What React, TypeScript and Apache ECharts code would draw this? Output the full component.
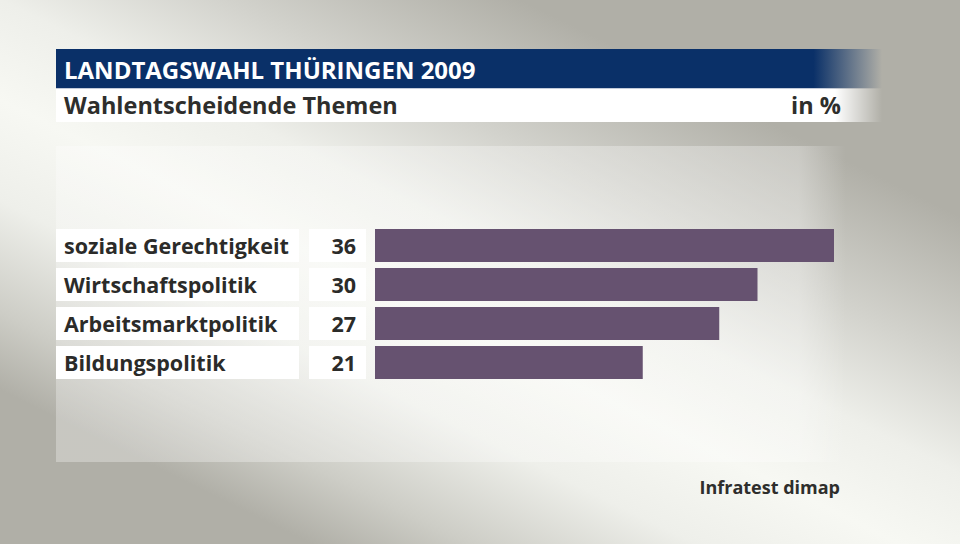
import React, { useEffect, useRef } from "react";
import * as echarts from "echarts";

const categories = ["soziale Gerechtigkeit", "Wirtschaftspolitik", "Arbeitsmarktpolitik", "Bildungspolitik"];
const values = [36, 30, 27, 21];
const title = "LANDTAGSWAHL THÜRINGEN 2009";
const subtitle = "Wahlentscheidende Themen";
const unit = "in %";
const source = "Infratest dimap";

const FONT = "'Open Sans', 'Noto Sans', sans-serif";

export default function App() {
  const ref = useRef<HTMLDivElement>(null);
  useEffect(() => {
    document.body.style.margin = "0";
    if (!ref.current) return;
    const chart = echarts.init(ref.current, null, { renderer: "svg" });
    const bg = new echarts.graphic.LinearGradient(
      273, 681, 627, -37,
      [
        { offset: 0.0, color: "#b0afa7" },
        { offset: 0.175, color: "#b0afa7" },
        { offset: 0.2625, color: "#cdcdc6" },
        { offset: 0.3875, color: "#eeefea" },
        { offset: 0.5, color: "#f7f8f3" },
        { offset: 0.6125, color: "#eeefea" },
        { offset: 0.7375, color: "#d2d2cc" },
        { offset: 0.9, color: "#b0afa7" },
        { offset: 1, color: "#b0afa7" },
      ],
      true as any
    );
    const option: any = {
      animation: false,
      graphic: [
        { type: "rect", z: -20, shape: { x: 0, y: 0, width: 960, height: 544 }, style: { fill: bg }, silent: true },
        {
          type: "rect", z: -10, shape: { x: 56, y: 146, width: 790, height: 316 },
          style: {
            fill: new echarts.graphic.LinearGradient(0, 0, 1, 0, [
              { offset: 0, color: "rgba(255,255,255,0.3)" },
              { offset: 0.94, color: "rgba(255,255,255,0.3)" },
              { offset: 1, color: "rgba(255,255,255,0)" },
            ]),
          },
          silent: true,
        },
        {
          type: "rect", z: 1, shape: { x: 56, y: 49, width: 826, height: 39 },
          style: {
            fill: new echarts.graphic.LinearGradient(0, 0, 1, 0, [
              { offset: 0, color: "#0a3068" },
              { offset: 0.917, color: "#0a3068" },
              { offset: 1, color: "rgba(10,48,104,0)" },
            ]),
          },
        },
        {
          type: "rect", z: 1, shape: { x: 56, y: 88, width: 826, height: 1 },
          style: {
            fill: new echarts.graphic.LinearGradient(0, 0, 1, 0, [
              { offset: 0, color: "#c3cbda" },
              { offset: 0.93, color: "#c3cbda" },
              { offset: 1, color: "rgba(195,203,218,0)" },
            ]),
          },
        },
        {
          type: "rect", z: 1, shape: { x: 56, y: 89, width: 826, height: 33 },
          style: {
            fill: new echarts.graphic.LinearGradient(0, 0, 1, 0, [
              { offset: 0, color: "#ffffff" },
              { offset: 0.943, color: "#ffffff" },
              { offset: 1, color: "rgba(255,255,255,0)" },
            ]),
          },
        },
        {
          type: "text", z: 2, x: 64, y: 69,
          style: { text: title, fill: "#ffffff", font: `700 24px ${FONT}`, verticalAlign: "middle" },
        },
        {
          type: "text", z: 2, x: 64, y: 105,
          style: { text: subtitle, fill: "#2e2e2c", font: `700 23.5px ${FONT}`, verticalAlign: "middle" },
        },
        {
          type: "text", z: 2, x: 841, y: 105,
          style: { text: unit, fill: "#2e2e2c", font: `700 23.5px ${FONT}`, verticalAlign: "middle", align: "right" },
        },
        {
          type: "text", z: 2, x: 840, y: 487,
          style: { text: source, fill: "#2e2e2c", font: `700 18px ${FONT}`, verticalAlign: "middle", align: "right" },
        },
      ],
      grid: { left: 375, top: 226, width: 459, height: 156, containLabel: false },
      xAxis: { type: "value", min: 0, max: 36, show: false },
      yAxis: {
        type: "category",
        data: categories,
        inverse: true,
        axisLine: { show: false },
        axisTick: { show: false },
        splitLine: { show: false },
        axisLabel: {
          margin: 9,
          formatter: (v: string, i: number) => `{n|${v}}{s|}{v|${values[i]}}`,
          rich: {
            n: {
              width: 235, height: 33, lineHeight: 33, padding: [0, 0, 0, 8],
              backgroundColor: "#ffffff", color: "#2b2b29", fontSize: 21.5, fontWeight: 700, fontFamily: FONT, align: "left",
            },
            s: { width: 10, height: 33, lineHeight: 33, align: "left" },
            v: {
              width: 47, height: 33, lineHeight: 33, padding: [0, 10, 0, 0],
              backgroundColor: "#ffffff", color: "#2b2b29", fontSize: 21.5, fontWeight: 700, fontFamily: FONT, align: "right",
            },
          },
        },
      },
      series: [
        {
          type: "bar",
          data: values,
          barWidth: 33,
          itemStyle: { color: "#665270" },
          silent: true,
        },
      ],
    };
    chart.setOption(option);
    return () => chart.dispose();
  }, []);
  return <div ref={ref} style={{ width: 960, height: 544 }} />;
}
